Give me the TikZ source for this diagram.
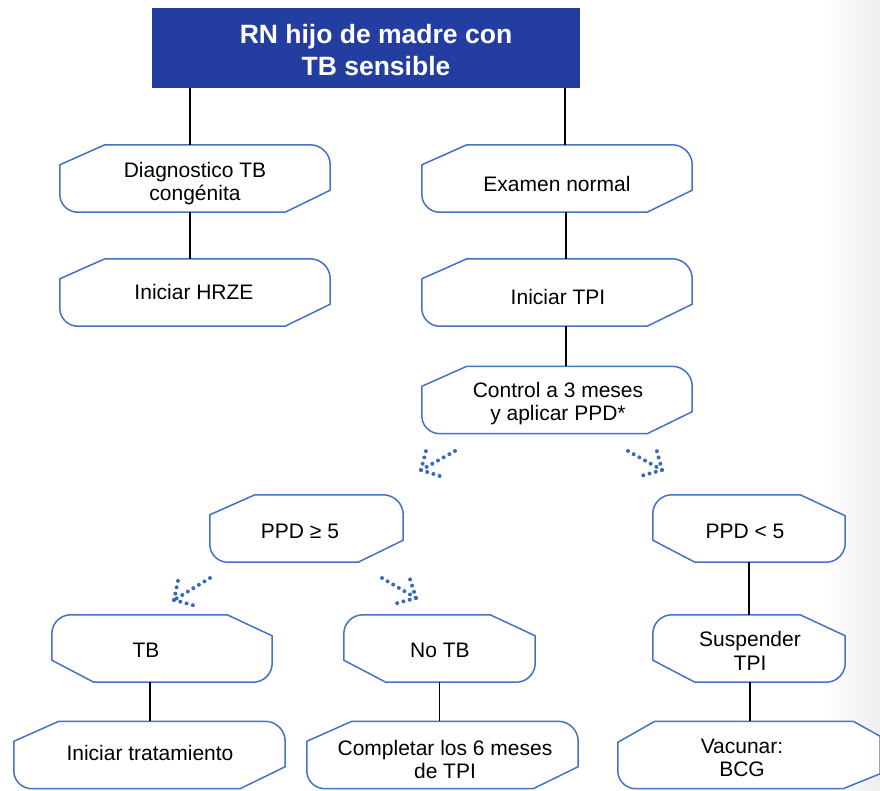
\documentclass[tikz,border=0pt]{standalone}
\usepackage{fontspec}
\setmainfont{Liberation Sans}
\usetikzlibrary{calc,backgrounds}
\definecolor{boxblue}{RGB}{68,114,196}
\definecolor{titleblue}{RGB}{35,62,160}
\definecolor{dotblue}{RGB}{58,105,190}
\tikzset{
  bxline/.style={draw=boxblue, line width=1.5pt, fill=white, line join=round},
  boxnode/.style={inner sep=0pt, minimum height=67pt},
  txt/.style={inner sep=0pt, align=center, font=\fontsize{21}{23.5}\selectfont},
  conn/.style={draw=black, line width=1.4pt},
  dotarr/.style={draw=dotblue, line width=4pt, line cap=round, dash pattern=on 0pt off 6.5pt},
}
% chamfer top-left / bottom-right, rounded top-right / bottom-left
\newcommand\myshapeA[1]{\draw[bxline] ($(#1.north west)+(0,20)$) -- ($(#1.north west)+(45,0)$) -- ($(#1.north east)+(-20,0)$) .. controls ($(#1.north east)+(-9,0)$) and ($(#1.north east)+(0,9)$) .. ($(#1.north east)+(0,20)$) -- ($(#1.south east)+(0,-22)$) -- ($(#1.south east)+(-45,0)$) -- ($(#1.south west)+(18,0)$) .. controls ($(#1.south west)+(8,0)$) and ($(#1.south west)+(0,-8)$) .. ($(#1.south west)+(0,-18)$) -- cycle;}
% rounded top-left / bottom-right, chamfer top-right / bottom-left
\newcommand\myshapeB[1]{\draw[bxline] ($(#1.north west)+(0,19)$) .. controls ($(#1.north west)+(0,8.5)$) and ($(#1.north west)+(8.5,0)$) .. ($(#1.north west)+(19,0)$) -- ($(#1.north east)+(-45,0)$) -- ($(#1.north east)+(0,21)$) -- ($(#1.south east)+(0,-19)$) .. controls ($(#1.south east)+(0,-8.5)$) and ($(#1.south east)+(-8.5,0)$) .. ($(#1.south east)+(-19,0)$) -- ($(#1.south west)+(42,0)$) -- ($(#1.south west)+(0,-22)$) -- cycle;}
\begin{document}
\begin{tikzpicture}[x=1pt,y=-1pt]
\useasboundingbox (0,0) rectangle (880,790);

% title
\node[fill=titleblue, inner sep=0pt, minimum width=428pt, minimum height=80pt] (title) at (366,48) {};
\node[text=white, inner sep=0pt, align=center, font=\fontsize{26.5}{32}\bfseries\selectfont] (titletext) at (376,50) {RN hijo de madre con\\TB sensible};

% boxes
\node[boxnode, minimum width=270pt] (diag) at (195,178.5) {};
\node[boxnode, minimum width=270pt] (hrze) at (195,292.5) {};
\node[boxnode, minimum width=270pt] (exam) at (557,178.5) {};
\node[boxnode, minimum width=270pt] (tpi) at (557,292.5) {};
\node[boxnode, minimum width=270pt] (ctrl) at (557,400) {};
\node[boxnode, minimum width=193pt] (ppdge) at (306.5,528.5) {};
\node[boxnode, minimum width=192pt] (ppdlt) at (749,528.5) {};
\node[boxnode, minimum width=220pt] (tb) at (162,648.5) {};
\node[boxnode, minimum width=191pt] (notb) at (439.5,648.5) {};
\node[boxnode, minimum width=192pt] (susp) at (749,648.5) {};
\node[boxnode, minimum width=271pt] (trat) at (149.5,755) {};
\node[boxnode, minimum width=271pt] (compl) at (442.5,755) {};
\node[boxnode, minimum width=262pt] (vac) at (749,755) {};

% texts
\node[txt] (diagt) at (195,183.5) {Diagnostico TB\\congénita};
\node[txt] (hrzet) at (194,292) {Iniciar HRZE};
\node[txt] (examt) at (557,184) {Examen normal};
\node[txt] (tpit) at (558,297) {Iniciar TPI};
\node[txt] (ctrlt) at (558,403.5) {Control a 3 meses\\y aplicar PPD*};
\node[txt] (ppdget) at (300,531) {PPD ≥ 5};
\node[txt] (ppdltt) at (745,531) {PPD < 5};
\node[txt] (tbt) at (146,650) {TB};
\node[txt] (notbt) at (440,650) {No TB};
\node[txt] (suspt) at (750,651) {Suspender\\TPI};
\node[txt] (tratt) at (150,753) {Iniciar tratamiento};
\node[txt] (complt) at (445,759.5) {Completar los 6 meses\\de TPI};
\node[txt] (vact) at (742,758) {Vacunar:\\BCG};

\begin{pgfonlayer}{background}
  \shade[left color=white, right color=black!7] (828,0) rectangle (880,790);
  \myshapeA{diag}
  \myshapeA{hrze}
  \myshapeA{exam}
  \myshapeA{tpi}
  \myshapeA{ctrl}
  \myshapeA{ppdge}
  \myshapeB{ppdlt}
  \myshapeB{tb}
  \myshapeB{notb}
  \myshapeB{susp}
  \myshapeA{trat}
  \myshapeA{compl}
  \draw[bxline] ($(vac.north west)+(0,21)$) -- ($(vac.north west)+(37,0)$) -- ($(vac.north east)+(-27,0)$) -- ($(vac.north east)+(0,15)$) -- ($(vac.south east)+(0,-15)$) -- ($(vac.south east)+(-37,0)$) -- ($(vac.south west)+(18,0)$) .. controls ($(vac.south west)+(8,0)$) and ($(vac.south west)+(0,-8)$) .. ($(vac.south west)+(0,-18)$) -- cycle;
  % connectors
  \draw[conn] ([xshift=-5pt]diag.north) -- ([xshift=-5pt]diag.north |- title.south);
  \draw[conn] ([xshift=8pt]exam.north) -- ([xshift=8pt]exam.north |- title.south);
  \draw[conn] ([xshift=-5pt]diag.south) -- ([xshift=-5pt]hrze.north);
  \draw[conn] ([xshift=9pt]exam.south) -- ([xshift=9pt]tpi.north);
  \draw[conn] ([xshift=9pt]tpi.south) -- ([xshift=9pt]ctrl.north);
  \draw[conn] ([xshift=-12pt]tb.south) -- ([xshift=-12pt]tb.south |- trat.north);
  \draw[conn] (notb.south) -- (notb.south |- compl.north);
  \draw[conn] (ppdlt.south) -- (susp.north);
  \draw[conn] ([xshift=1pt]susp.south) -- ([xshift=1pt]vac.north);
\end{pgfonlayer}

% dotted arrows
\coordinate (a1t) at (455,451); \coordinate (a1h) at (421,470); \coordinate (a1u) at (427,447); \coordinate (a1r) at (443,477);
\draw[dotarr] (a1t) -- (a1h); \draw[dotarr] (a1h) -- (a1u); \draw[dotarr] (a1h) -- (a1r);
\coordinate (a2t) at (628,451); \coordinate (a2h) at (662,470); \coordinate (a2u) at (656,448); \coordinate (a2l) at (641,476);
\draw[dotarr] (a2t) -- (a2h); \draw[dotarr] (a2h) -- (a2u); \draw[dotarr] (a2h) -- (a2l);
\coordinate (a3t) at (210,578); \coordinate (a3h) at (174,600); \coordinate (a3u) at (179,576); \coordinate (a3r) at (196,606);
\draw[dotarr] (a3t) -- (a3h); \draw[dotarr] (a3h) -- (a3u); \draw[dotarr] (a3h) -- (a3r);
\coordinate (a4t) at (382,578); \coordinate (a4h) at (416,598); \coordinate (a4u) at (409,576); \coordinate (a4l) at (394,604);
\draw[dotarr] (a4t) -- (a4h); \draw[dotarr] (a4h) -- (a4u); \draw[dotarr] (a4h) -- (a4l);
\end{tikzpicture}
\end{document}
